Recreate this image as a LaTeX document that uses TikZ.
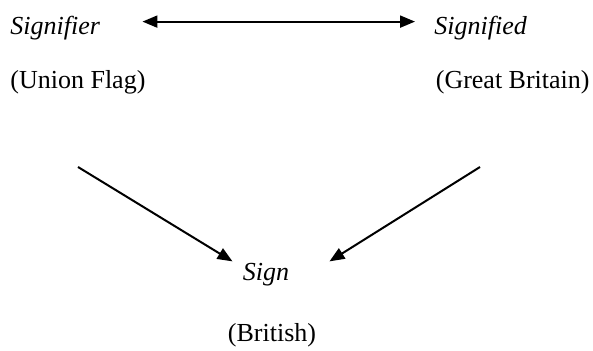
\documentclass[tikz,border=0pt]{standalone}
\usepackage{fontspec}
\setmainfont{Liberation Serif}
\usetikzlibrary{arrows.meta}

\begin{document}
\begin{tikzpicture}[x=0.5pt,y=-0.5pt,
    lbl/.style={inner sep=0pt,font=\fontsize{13}{15}\selectfont},
    tip/.style={Triangle[length=7.5pt,width=6pt]},
    arr/.style={line width=1pt,-{Triangle[length=7.5pt,width=6pt]}}]
    \useasboundingbox (0,0) rectangle (593,351);

    % Signifiant
    \node[lbl,anchor=base west] (sigfier) at (10,35) {\textit{Signifier}};
    \node[lbl,anchor=base west] (uflag) at (10,89) {(Union Flag)};

    % Signifie
    \node[lbl,anchor=base west] (sigfied) at (434,35) {\textit{Signified}};
    \node[lbl,anchor=base east] (gb) at (590,89) {(Great Britain)};

    % Signo
    \node[lbl,anchor=base] (sign) at (266,281) {\textit{Sign}};
    \node[lbl,anchor=base] (brit) at (272,342) {(British)};

    % Flechas
    \coordinate (lt) at (78,167);
    \coordinate (rt) at (480,167);
    \draw[arr,{Triangle[length=7.5pt,width=6pt]}-{Triangle[length=7.5pt,width=6pt]},
        shorten <=21pt,shorten >=9.5pt]
        ([yshift=3.5pt]sigfier.east) -- ([yshift=3.5pt]sigfied.west);
    \draw[arr] (lt) -- ([xshift=-5pt,yshift=1pt]sign.north west);
    \draw[arr] (rt) -- ([xshift=43.5pt,yshift=1pt]sign.north west);

\end{tikzpicture}
\end{document}
